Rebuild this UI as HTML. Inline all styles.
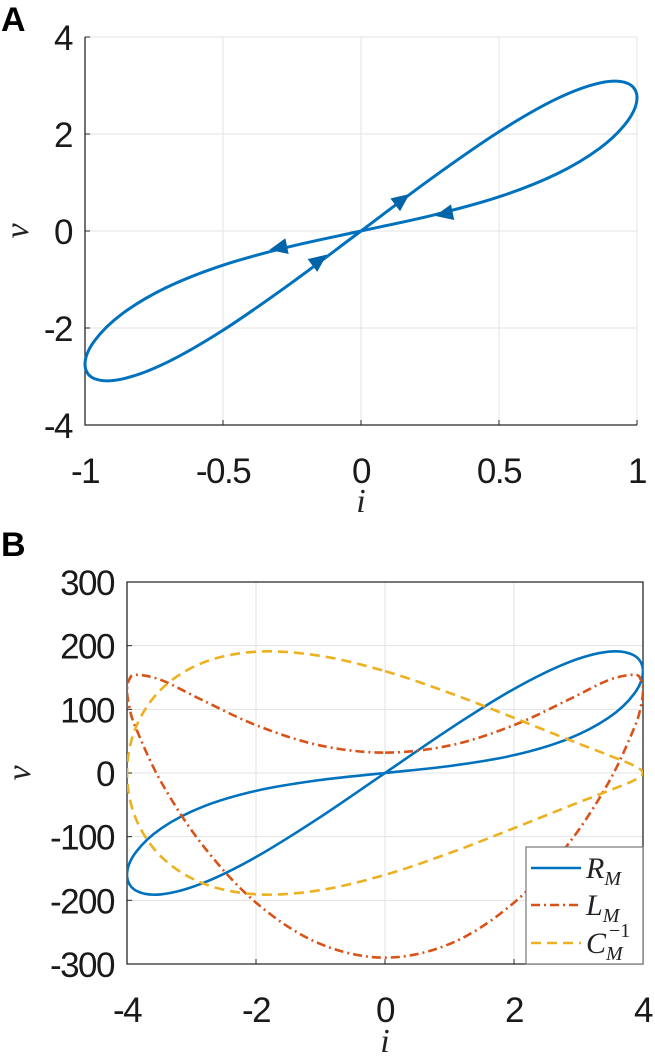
<!DOCTYPE html>
<html><head><meta charset="utf-8">
<style>
html,body{margin:0;padding:0;background:#fff;}
svg{display:block;}
.tick{font-family:"Liberation Sans",Arial,sans-serif;font-size:35px;letter-spacing:-1.5px;fill:#1a1a1a;}
.ax{font-family:"Liberation Serif",serif;font-style:italic;font-size:34px;fill:#222;}
.pl{font-family:"Liberation Sans",Arial,sans-serif;font-weight:bold;font-size:34px;fill:#000;}
.lg{font-family:"Liberation Serif",serif;font-style:italic;font-size:30px;fill:#222;}
.lgs{font-size:20px;}
</style></head>
<body>
<svg id="fig" width="655" height="1058" viewBox="0 0 655 1058" xmlns="http://www.w3.org/2000/svg">
  <text class="pl" x="1" y="31">A</text>
  <text class="pl" x="1" y="556">B</text>
  <g id="pa"></g>
  <g id="pb"></g>
</svg>
<script>
// ---------- Panel A data ----------
const aXTicks = [-1, -0.5, 0, 0.5, 1];
const aXTickLabels = ["-1", "-0.5", "0", "0.5", "1"];
const aYTicks = [-4, -2, 0, 2, 4];
const aYTickLabels = ["-4", "-2", "0", "2", "4"];
const aLoopI = [0, 0.259, 0.5, 0.707, 0.866, 0.966, 1, 0.966, 0.866, 0.707, 0.5, 0.259, 0, -0.259, -0.5, -0.707, -0.866, -0.966, -1, -0.966, -0.866, -0.707, -0.5, -0.259];
const aLoopV = [0, 1.099, 2.046, 2.72, 3.053, 3.044, 2.75, 2.269, 1.71, 1.17, 0.704, 0.324, 0, -0.324, -0.704, -1.17, -1.71, -2.269, -2.75, -3.044, -3.053, -2.72, -2.046, -1.099];
const aArrowI = [0.15, 0.3, -0.3, -0.15];
const aArrowV = [0.65, 0.35, -0.35, -0.6];
const aArrowDirI = [1, -1, -1, 1];
const aArrowDirV = [4.3, -1.2, -1.2, 4.3];

// ---------- Panel B data ----------
const bXTicks = [-4, -2, 0, 2, 4];
const bXTickLabels = ["-4", "-2", "0", "2", "4"];
const bYTicks = [-300, -200, -100, 0, 100, 200, 300];
const bYTickLabels = ["-300", "-200", "-100", "0", "100", "200", "300"];
const rmI = [0, 1.035, 2, 2.828, 3.464, 3.864, 4, 3.864, 3.464, 2.828, 2, 1.035, 0, -1.035, -2, -2.828, -3.464, -3.864, -4, -3.864, -3.464, -2.828, -2, -1.035];
const rmV = [0, 71.4, 132, 173.1, 190.5, 184.5, 160, 124.6, 86.6, 53.1, 28, 11.4, 0, -11.4, -28, -53.1, -86.6, -124.6, -160, -184.5, -190.5, -173.1, -132, -71.4];
const lmI = [0, 1.035, 2, 2.828, 3.464, 3.864, 3.966, 4, 3.966, 3.864, 3.464, 2.828, 2, 1.035, 0, -1.035, -2, -2.828, -3.464, -3.864, -3.966, -4, -3.966, -3.864, -3.464, -2.828, -2, -1.035];
const lmV = [32, 43.9, 75.2, 114.3, 145.8, 154.3, 146.6, 130, 104.6, 71, -15.3, -113.3, -203.6, -267.1, -290, -267.1, -203.6, -113.3, -15.3, 71, 104.6, 130, 146.6, 154.3, 145.8, 114.3, 75.2, 43.9];
const cmI = [0, 1.035, 2, 2.828, 3.464, 3.864, 4, 3.864, 3.464, 2.828, 2, 1.035, 0, -1.035, -2, -2.828, -3.464, -3.864, -4, -3.864, -3.464, -2.828, -2, -1.035];
const cmV = [160, 124.5, 86.6, 53.1, 28, 11.4, 0, -11.4, -28, -53.1, -86.6, -124.5, -160, -184.5, -190.5, -173.1, -132, -71.4, 0, 71.4, 132, 173.1, 190.5, 184.5];

const NS = "http://www.w3.org/2000/svg";
function mk(tag, attrs, parent) {
  const e = document.createElementNS(NS, tag);
  for (const k in attrs) e.setAttribute(k, attrs[k]);
  parent.appendChild(e);
  return e;
}
function lin(d0, d1, r0, r1) { return v => r0 + (v - d0) / (d1 - d0) * (r1 - r0); }
function smoothClosed(xs, ys, sx, sy) {
  const n = xs.length, P = [];
  for (let k = 0; k < n; k++) P.push([sx(xs[k]), sy(ys[k])]);
  let d = "M" + P[0][0].toFixed(2) + "," + P[0][1].toFixed(2);
  for (let k = 0; k < n; k++) {
    const p0 = P[(k - 1 + n) % n], p1 = P[k], p2 = P[(k + 1) % n], p3 = P[(k + 2) % n];
    const c1 = [p1[0] + (p2[0] - p0[0]) / 6, p1[1] + (p2[1] - p0[1]) / 6];
    const c2 = [p2[0] - (p3[0] - p1[0]) / 6, p2[1] - (p3[1] - p1[1]) / 6];
    d += "C" + c1.map(v => v.toFixed(2)).join(",") + " " + c2.map(v => v.toFixed(2)).join(",") + " " + p2[0].toFixed(2) + "," + p2[1].toFixed(2);
  }
  return d;
}

function axes(g, L, R, T, B, sx, sy, xt, xtl, yt, ytl, box, yLblX, xLblY, xTitle, yTitle, pre) {
  mk("rect", {x: L, y: T, width: R - L, height: B - T, fill: "#fff"}, g);
  xt.forEach((v, k) => {
    const gl = mk("line", {x1: sx(v), x2: sx(v), y1: T, y2: B, stroke: "#e3e3e3", "stroke-width": 1}, g);
    
    
    const tk = mk("line", {x1: sx(v), x2: sx(v), y1: B, y2: B - 5, stroke: "#262626", "stroke-width": 1}, g);
    
    
    const t = mk("text", {x: sx(v), y: xLblY, "text-anchor": "middle", class: "tick"}, g);
    t.textContent = xtl[k];
    
    
  });
  yt.forEach((v, k) => {
    const gl = mk("line", {x1: L, x2: R, y1: sy(v), y2: sy(v), stroke: "#e3e3e3", "stroke-width": 1}, g);
    
    
    const tk = mk("line", {x1: L, x2: L + 5, y1: sy(v), y2: sy(v), stroke: "#262626", "stroke-width": 1}, g);
    
    
    const t = mk("text", {x: yLblX, y: sy(v) + 13, "text-anchor": "end", class: "tick"}, g);
    t.textContent = ytl[k];
    
    
  });
  const frame = mk("path", {d: box ? `M${L},${T}H${R}V${B}H${L}Z` : `M${L},${T}V${B}H${R}`, fill: "none", stroke: "#262626", "stroke-width": 1.3}, g);
  
  
  const xl = mk("text", {x: (L + R) / 2, y: xTitle[1], "text-anchor": "middle", class: "ax"}, g);
  xl.textContent = "i";
  
  
  const yl = mk("text", {x: yTitle[0], y: yTitle[1], "text-anchor": "middle", class: "ax", transform: `rotate(-90 ${yTitle[0]} ${yTitle[1]})`}, g);
  yl.textContent = "v";
  
  
}

// Panel A
(function () {
  const g = document.getElementById("pa");
  const L = 85, R = 637, T = 37, B = 425;
  const sx = lin(-1, 1, L, R), sy = lin(-4, 4, B, T);
  axes(g, L, R, T, B, sx, sy, aXTicks, aXTickLabels, aYTicks, aYTickLabels, false, 72, 483, [0, 512], [28, 231], "panel-a");
  const p = mk("path", {d: smoothClosed(aLoopI, aLoopV, sx, sy), fill: "none", stroke: "#0072BD", "stroke-width": 3, "stroke-linejoin": "round"}, g);
  
  
  aArrowI.forEach((v, k) => {
    const x = sx(v), y = sy(aArrowV[k]);
    const dx = sx(aArrowDirI[k]) - sx(0), dy = sy(aArrowDirV[k]) - sy(0);
    const ang = Math.atan2(dy, dx) * 180 / Math.PI;
    const a = mk("polygon", {points: "9,0 -9,-8 -9,8", fill: "#0064A8", transform: `translate(${x},${y}) rotate(${ang})`}, g);
    
    
  });
})();

// Panel B
(function () {
  const g = document.getElementById("pb");
  const L = 127, R = 643, T = 582, B = 964;
  const sx = lin(-4, 4, L, R), sy = lin(-300, 300, B, T);
  axes(g, L, R, T, B, sx, sy, bXTicks, bXTickLabels, bYTicks, bYTickLabels, true, 114, 1022, [0, 1052], [30, 773], "panel-b");
  const clip = mk("clipPath", {id: "cb"}, g);
  mk("rect", {x: L, y: T, width: R - L, height: B - T}, clip);
  const series = [
    [rmI, rmV, "#0072BD", "", "series-r-m"],
    [lmI, lmV, "#D95319", "9 4 2 4", "series-l-m"],
    [cmI, cmV, "#EDB120", "10 6", "series-c-m-inv"]
  ];
  series.forEach(s => {
    const p = mk("path", {d: smoothClosed(s[0], s[1], sx, sy), fill: "none", stroke: s[2], "stroke-width": 2.6, "stroke-dasharray": s[3], "clip-path": "url(#cb)"}, g);
    
    
  });
  // legend
  const lg = mk("g", {}, g);
  
  
  mk("rect", {x: 526, y: 847, width: 117, height: 117, fill: "#fff", stroke: "#777", "stroke-width": 1.2}, lg);
  const ents = [[868, "#0072BD", "", "R", "M", "", "legend-entry-r-m"], [905, "#D95319", "9 4 2 4", "L", "M", "", "legend-entry-l-m"], [943, "#EDB120", "10 6", "C", "M", "−1", "legend-entry-c-m-inv"]];
  ents.forEach(e => {
    const eg = mk("g", {}, lg);
    
    
    mk("line", {x1: 531, x2: 581, y1: e[0], y2: e[0], stroke: e[1], "stroke-width": 2.6, "stroke-dasharray": e[2]}, eg);
    const t = mk("text", {x: 586, y: e[0] + 10, class: "lg"}, eg);
    t.textContent = e[3];
    const sub = mk("tspan", {class: "lgs", dy: 7}, t);
    sub.textContent = e[4];
    if (e[5]) {
      const sup = mk("text", {x: 609, y: e[0] - 6, class: "lg lgs", style: "font-style:normal"}, eg);
      sup.textContent = e[5];
    }
  });
})();
</script>
</body></html>
